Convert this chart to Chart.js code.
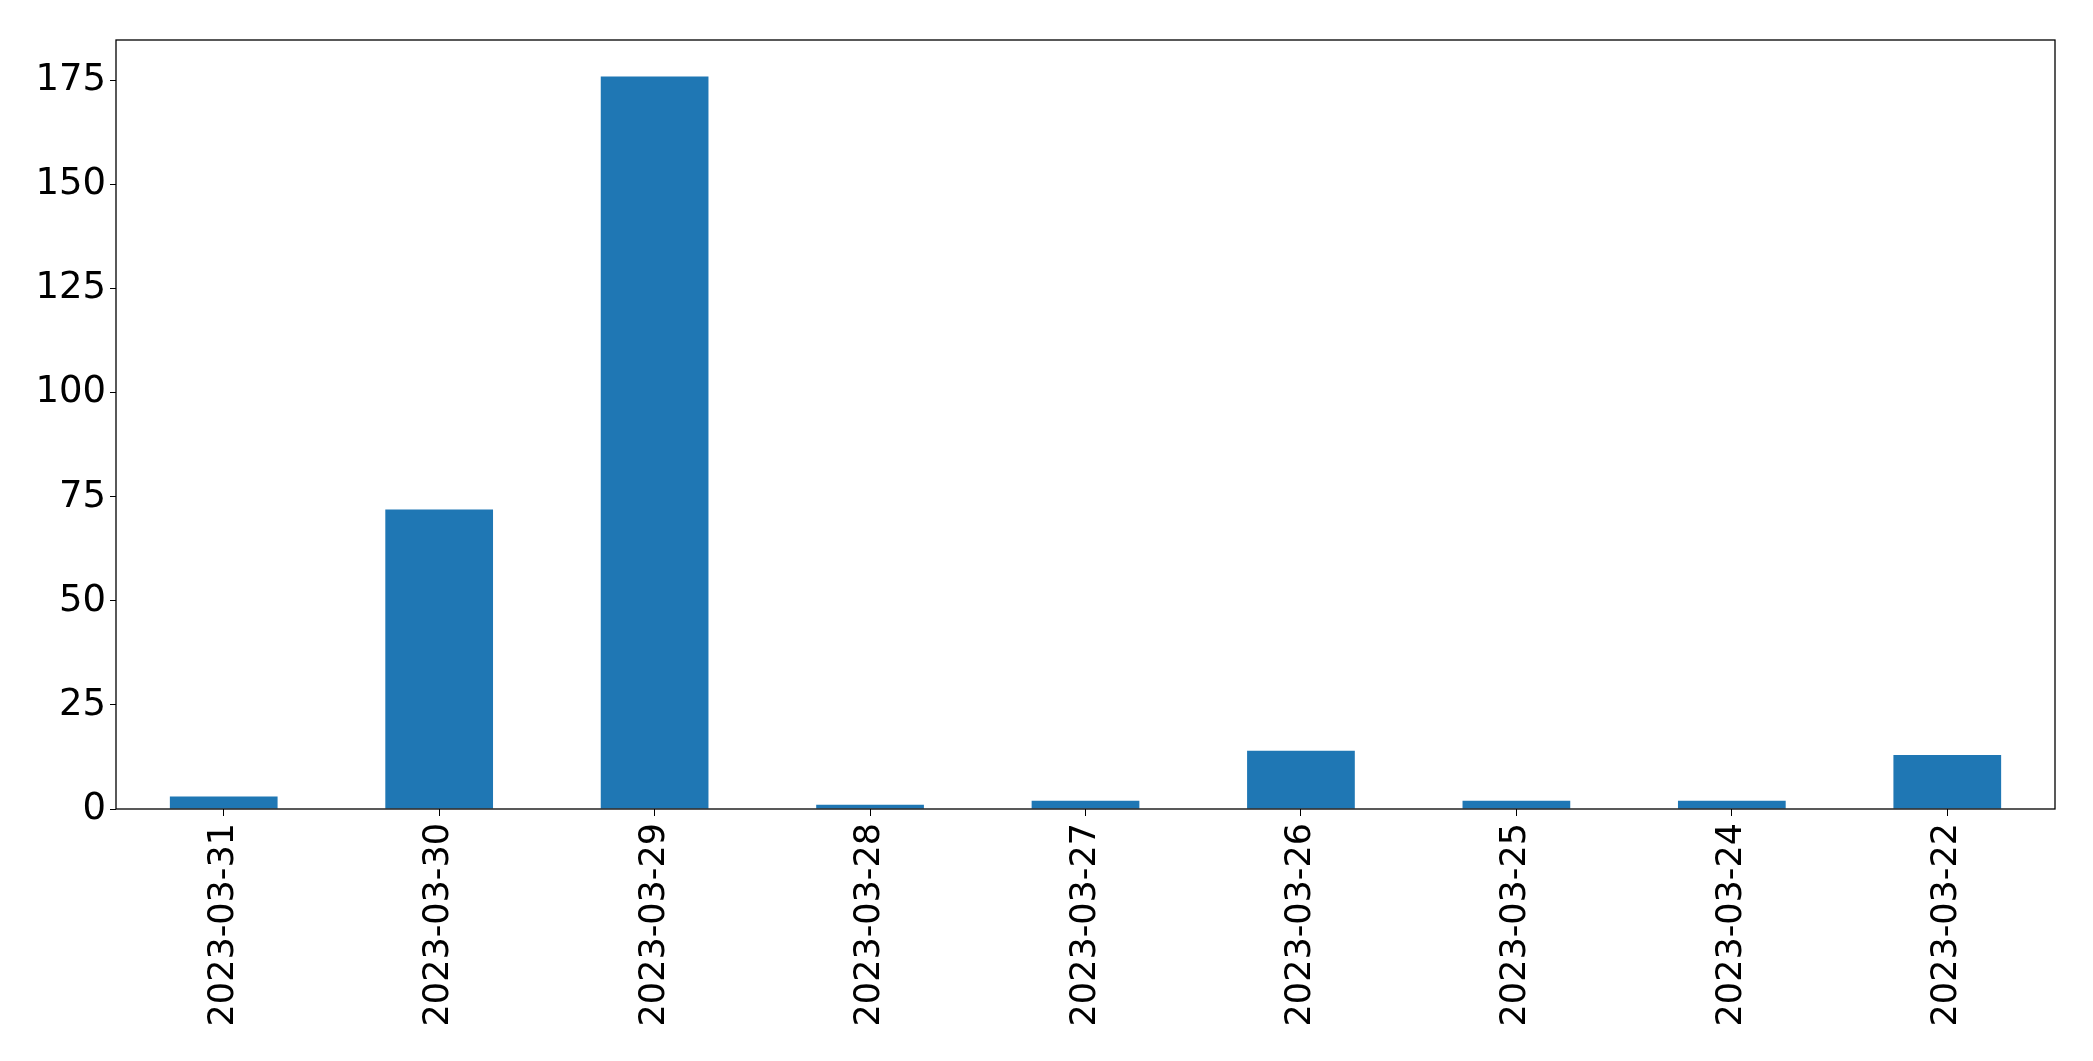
<!DOCTYPE html>
<html>
<head>
<meta charset="utf-8">
<script src="https://cdn.jsdelivr.net/npm/chart.js@4"></script>
<style>
  html, body { margin: 0; padding: 0; background: #fff; }
  #wrap { width: 2093px; height: 1061px; }
</style>
</head>
<body>
<div id="wrap"><canvas id="myChart1" width="2093" height="1061"></canvas></div>
<script>
const dates = ['2023-03-31', '2023-03-30', '2023-03-29', '2023-03-28', '2023-03-27',
               '2023-03-26', '2023-03-25', '2023-03-24', '2023-03-22'];
const counts = [3, 72, 176, 1, 2, 14, 2, 2, 13];
const yTicks = [0, 25, 50, 75, 100, 125, 150, 175];
const yMax = 184.8;

// frame round the plot area, like matplotlib's spines
const frame = {
    id: 'frame',
    afterDraw(chart) {
        const a = chart.chartArea;
        const c = chart.ctx;
        c.save();
        c.strokeStyle = '#000';
        c.lineWidth = 1.3;
        c.strokeRect(a.left, a.top, a.right - a.left, a.bottom - a.top);
        c.restore();
    }
};

const ctx = document.getElementById('myChart1');
Chart.defaults.font.family = '"DejaVu Sans", sans-serif';

window.myChart = new Chart(ctx, {
    type: 'bar',
    data: {
        labels: dates,
        datasets: [{
            data: counts,
            backgroundColor: '#1f77b4',
            categoryPercentage: 1,
            barPercentage: 0.5,
        }]
    },
    options: {
        responsive: false,
        animation: false,
        layout: { padding: { left: 0, top: 40, right: 38, bottom: 0 } },
        plugins: { legend: { display: false }, tooltip: { enabled: false } },
        scales: {
            x: {
                offset: true,
                grid: { drawOnChartArea: false, drawTicks: true, tickLength: 7, color: '#000', offset: false },
                border: { display: false },
                ticks: { color: '#000', font: { size: 35 }, minRotation: 90, maxRotation: 90, padding: 7 },
                afterFit(scale) { scale.height = 252; }
            },
            y: {
                min: 0,
                max: yMax,
                grid: { drawOnChartArea: false, drawTicks: true, tickLength: 6, color: '#000' },
                border: { display: false },
                ticks: { color: '#000', font: { size: 37 }, padding: 4, autoSkip: false },
                afterBuildTicks(scale) { scale.ticks = yTicks.map(v => ({ value: v })); },
                afterFit(scale) { scale.width = 116; }
            }
        }
    },
    plugins: [frame]
});
</script>
</body>
</html>
